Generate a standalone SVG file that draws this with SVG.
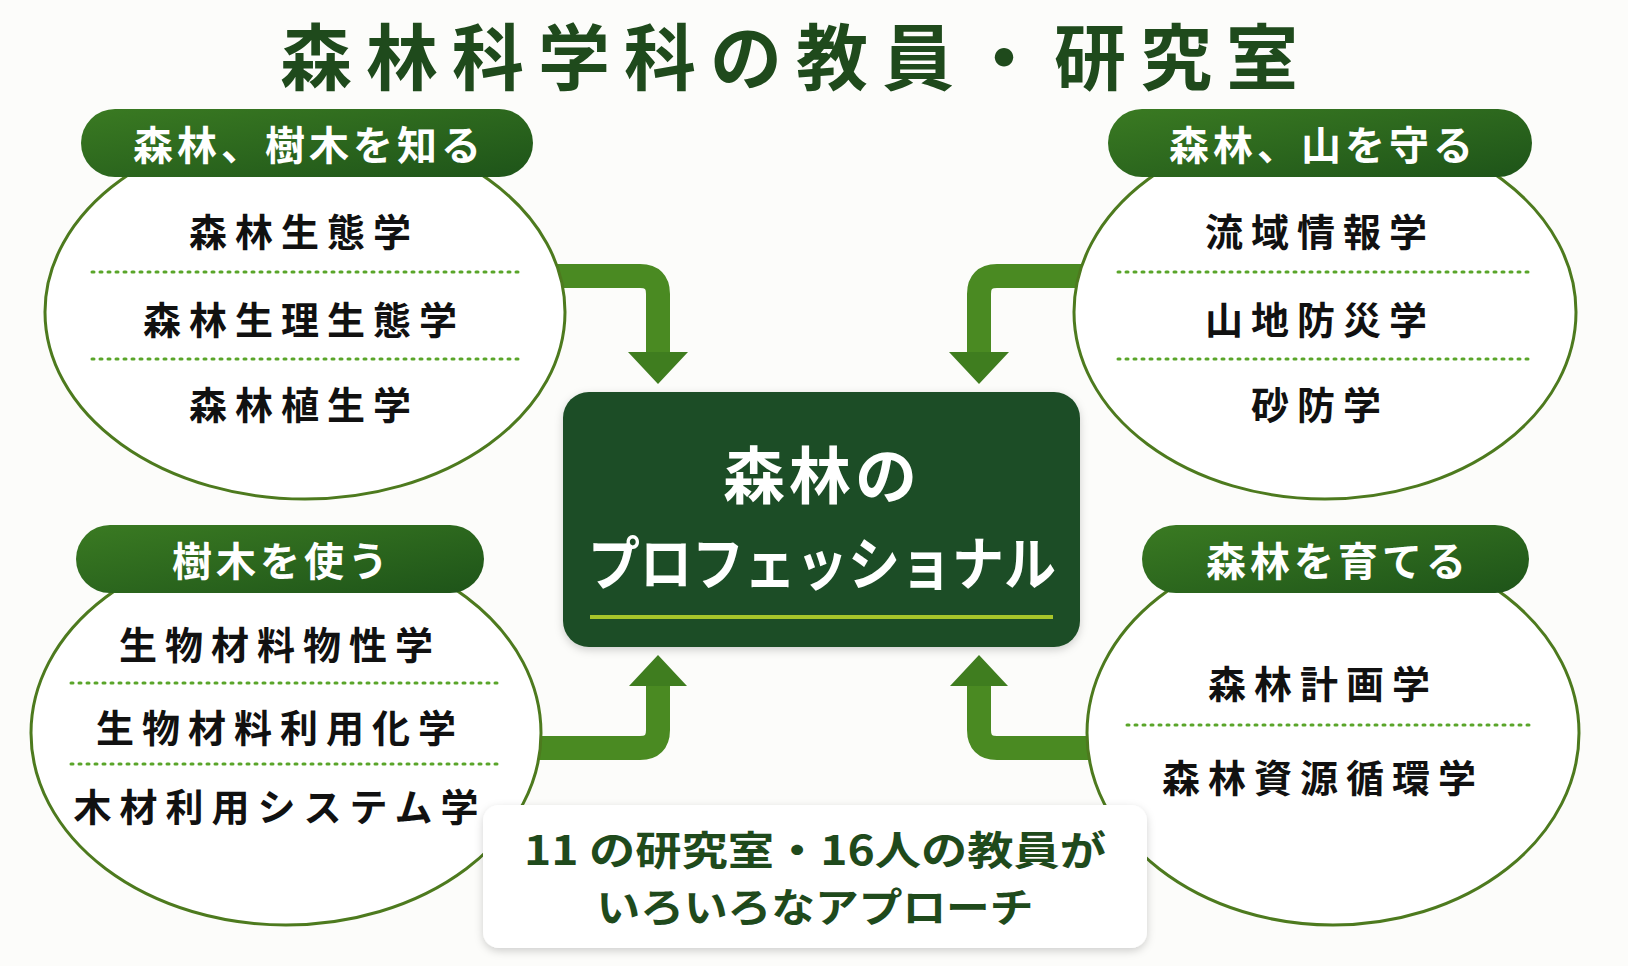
<svg xmlns="http://www.w3.org/2000/svg" width="1628" height="966" viewBox="0 0 1628 966">
<defs>
<linearGradient id="pill" x1="0" y1="0" x2="1" y2="1"><stop offset="0" stop-color="#3a7a22"/><stop offset="1" stop-color="#1e5419"/></linearGradient>
<linearGradient id="arr" x1="0" y1="0" x2="1" y2="1"><stop offset="0" stop-color="#4f8d22"/><stop offset="1" stop-color="#3d7a1d"/></linearGradient>
<filter id="sh" x="-10%" y="-10%" width="120%" height="130%"><feDropShadow dx="0" dy="3" stdDeviation="4" flood-color="#000" flood-opacity="0.18"/></filter>
<style>
text{font-family:"Noto Sans CJK JP","Noto Sans",sans-serif;font-weight:700;text-anchor:middle;dominant-baseline:central}
.ell{fill:#fff;stroke:#4d7a1e;stroke-width:3}
.pill{fill:url(#pill)}
.pt{fill:#fff;font-size:40px;letter-spacing:4px}
.it{fill:#111;font-size:38px;letter-spacing:8px}
.dot{stroke:#5aa52a;stroke-width:3;stroke-dasharray:2 6;stroke-linecap:round}
.band{fill:none;stroke:#4a8a22;stroke-width:24}
.head{fill:#3f7d1f}
</style>
</defs>
<rect width="1628" height="966" fill="#fcfcfa"/>
<text x="796" y="52" font-size="72" fill="#1f4a1c" letter-spacing="14">森林科学科の教員・研究室</text>
<g id="connectors">
<path class="band" d="M540 276 H640 Q658 276 658 294 V354"/><polygon class="head" points="628,352 688,352 658,384"/>
<path class="band" d="M1100 276 H997 Q979 276 979 294 V354"/><polygon class="head" points="949,352 1009,352 979,384"/>
<path class="band" d="M500 748 H640 Q658 748 658 730 V684"/><polygon class="head" points="629,686 687,686 658,655"/>
<path class="band" d="M1110 748 H997 Q979 748 979 730 V684"/><polygon class="head" points="950,686 1008,686 979,655"/>
</g>
<g id="know">
<ellipse class="ell" cx="305" cy="312" rx="260" ry="187"/>
<rect class="pill" x="81" y="109" width="452" height="68" rx="34"/>
<text class="pt" x="309" y="143">森林、樹木を知る</text>
<text class="it" x="304" y="229">森林生態学</text>
<line class="dot" x1="92" y1="272" x2="520" y2="272"/>
<text class="it" x="304" y="317">森林生理生態学</text>
<line class="dot" x1="92" y1="359" x2="520" y2="359"/>
<text class="it" x="304" y="402">森林植生学</text>
</g>
<g id="protect">
<ellipse class="ell" cx="1325" cy="312" rx="251" ry="187"/>
<rect class="pill" x="1108" y="109" width="424" height="68" rx="34"/>
<text class="pt" x="1323" y="143">森林、山を守る</text>
<text class="it" x="1320" y="229">流域情報学</text>
<line class="dot" x1="1118" y1="272" x2="1532" y2="272"/>
<text class="it" x="1320" y="317">山地防災学</text>
<line class="dot" x1="1118" y1="359" x2="1532" y2="359"/>
<text class="it" x="1320" y="402">砂防学</text>
</g>
<g id="use">
<ellipse class="ell" cx="286" cy="733" rx="255" ry="192"/>
<rect class="pill" x="76" y="525" width="408" height="68" rx="34"/>
<text class="pt" x="282" y="559">樹木を使う</text>
<text class="it" x="280" y="642">生物材料物性学</text>
<line class="dot" x1="71" y1="683" x2="497" y2="683"/>
<text class="it" x="280" y="725">生物材料利用化学</text>
<line class="dot" x1="71" y1="764" x2="497" y2="764"/>
<text class="it" x="280" y="804">木材利用システム学</text>
</g>
<g id="grow">
<ellipse class="ell" cx="1333" cy="733" rx="246" ry="192"/>
<rect class="pill" x="1142" y="525" width="387" height="68" rx="34"/>
<text class="pt" x="1338" y="559">森林を育てる</text>
<text class="it" x="1323" y="681">森林計画学</text>
<line class="dot" x1="1127" y1="725" x2="1532" y2="725"/>
<text class="it" x="1323" y="775">森林資源循環学</text>
</g>
<g id="center">
<rect x="563" y="392" width="517" height="255" rx="26" fill="#1b4d25" filter="url(#sh)"/>
<text x="822" y="472" font-size="62" fill="#fff" letter-spacing="4">森林の</text>
<text x="822" y="560" font-size="58" fill="#fff" textLength="468" lengthAdjust="spacingAndGlyphs">プロフェッショナル</text>
<line x1="590" y1="617" x2="1053" y2="617" stroke="#a8c62a" stroke-width="4"/>
</g>
<g id="note">
<rect x="483" y="805" width="664" height="143" rx="16" fill="#fff" filter="url(#sh)"/>
<text x="815" y="848" font-size="40" fill="#1f4a1c" textLength="582" lengthAdjust="spacingAndGlyphs">11 の研究室・16人の教員が</text>
<text x="815" y="905" font-size="40" fill="#1f4a1c" textLength="437" lengthAdjust="spacingAndGlyphs">いろいろなアプローチ</text>
</g>
</svg>
